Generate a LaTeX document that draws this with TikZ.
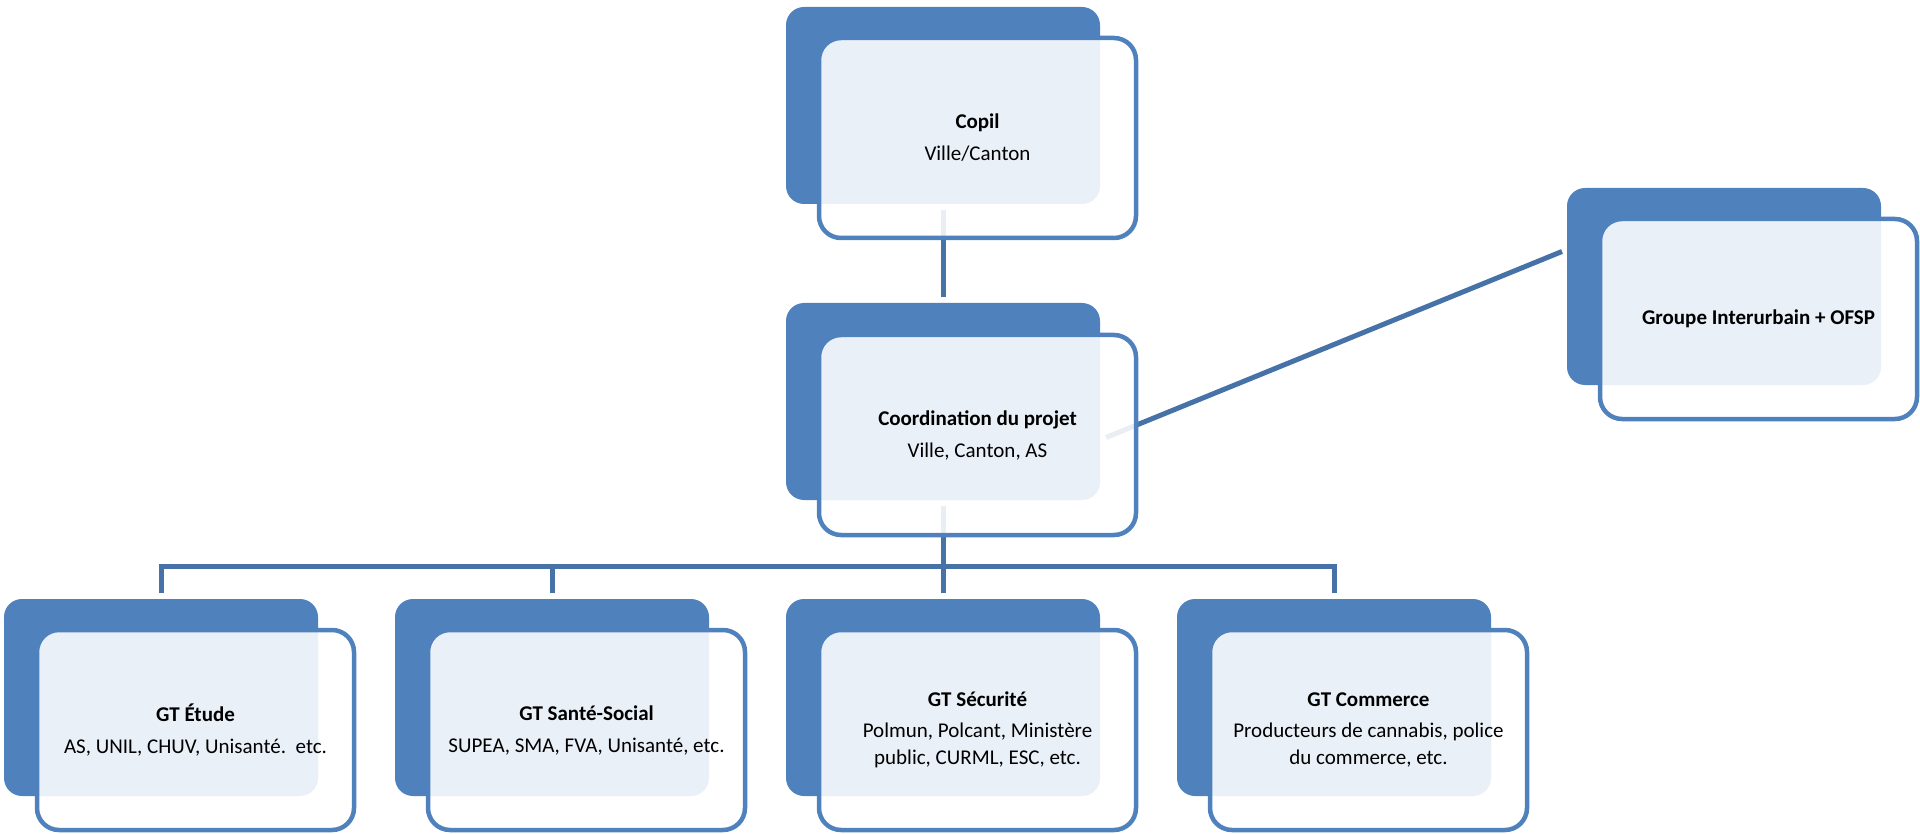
\documentclass[tikz,border=0pt]{standalone}
\usepackage{fontspec}
\setmainfont{Carlito}
\usetikzlibrary{calc}
\definecolor{boxblue}{RGB}{79,129,189}
\definecolor{connblue}{RGB}{70,114,168}
\tikzset{
  backbox/.style={anchor=north west, fill=boxblue, draw=none, rounded corners=18pt,
    minimum width=314pt, minimum height=197pt, inner sep=0pt, outer sep=0pt},
  frontbox/.style={anchor=north west, fill=white, fill opacity=0.885, draw=boxblue,
    line width=4.5pt, rounded corners=22pt,
    minimum width=317pt, minimum height=200pt, inner sep=0pt, outer sep=0pt},
  txt/.style={align=center, text=black, inner sep=0pt,
    font=\fontsize{21}{27}\selectfont},
  conn/.style={draw=connblue, line width=5pt, line join=miter}
}
\begin{document}
\begin{tikzpicture}[x=1pt,y=-1pt]
\useasboundingbox (0,0) rectangle (1920,834);
% back boxes
\node[backbox] (copilB) at (786,7) {};
\node[backbox] (coordB) at (786,303) {};
\node[backbox] (grpB) at (1567,188) {};
\node[backbox] (etudeB) at (4,599) {};
\node[backbox] (santeB) at (395,599) {};
\node[backbox] (secB) at (786,599) {};
\node[backbox] (commB) at (1177,599) {};
% connectors
\coordinate (busy) at (0,566);
\coordinate (bus1) at (etudeB.north |- busy);
\coordinate (bus2) at (santeB.north |- busy);
\coordinate (bus4) at (commB.north |- busy);
\draw[conn] ($(copilB.south)+(0,6)$) -- ($(coordB.north)+(0,-6)$);
\draw[conn] ($(etudeB.north)+(0,-6)$) -- (bus1) -- (bus4) -- ($(commB.north)+(0,-6)$);
\draw[conn] (bus2) -- ($(santeB.north)+(0,-6)$);
\draw[conn] ($(coordB.south)+(0,6)$) -- ($(secB.north)+(0,-6)$);
\draw[conn] ($(coordB.east)+(6,36)$) -- ($(grpB.west)+(-5,-35)$);
% front boxes
\node[frontbox] (copilF) at (819,38) {};
\node[frontbox] (coordF) at (819,335) {};
\node[frontbox] (grpF) at (1600,219) {};
\node[frontbox] (etudeF) at (37,630) {};
\node[frontbox] (santeF) at (428,630) {};
\node[frontbox] (secF) at (819,630) {};
\node[frontbox] (commF) at (1210,630) {};
% texts
\node[txt] (copilT) at (copilF.center) {\textbf{Copil}\\[5pt]Ville/Canton};
\node[txt] (coordT) at (coordF.center) {\textbf{Coordination du projet}\\[5pt]Ville, Canton, AS};
\node[txt] (grpT) at (grpF.center) {\textbf{Groupe Interurbain + OFSP}};
\node[txt] (etudeT) at (etudeF.center) {\textbf{GT Étude}\\[5pt]AS, UNIL, CHUV, Unisanté.\ \ etc.};
\node[txt] (santeT) at (santeF.center) {\textbf{GT Santé-Social}\\[5pt]SUPEA, SMA, FVA, Unisanté, etc.};
\node[txt] (secT) at (secF.center) {\textbf{GT Sécurité}\\[4pt]Polmun, Polcant, Ministère\\public, CURML, ESC, etc.};
\node[txt] (commT) at (commF.center) {\textbf{GT Commerce}\\[4pt]Producteurs de cannabis, police\\du commerce, etc.};
\end{tikzpicture}
\end{document}
